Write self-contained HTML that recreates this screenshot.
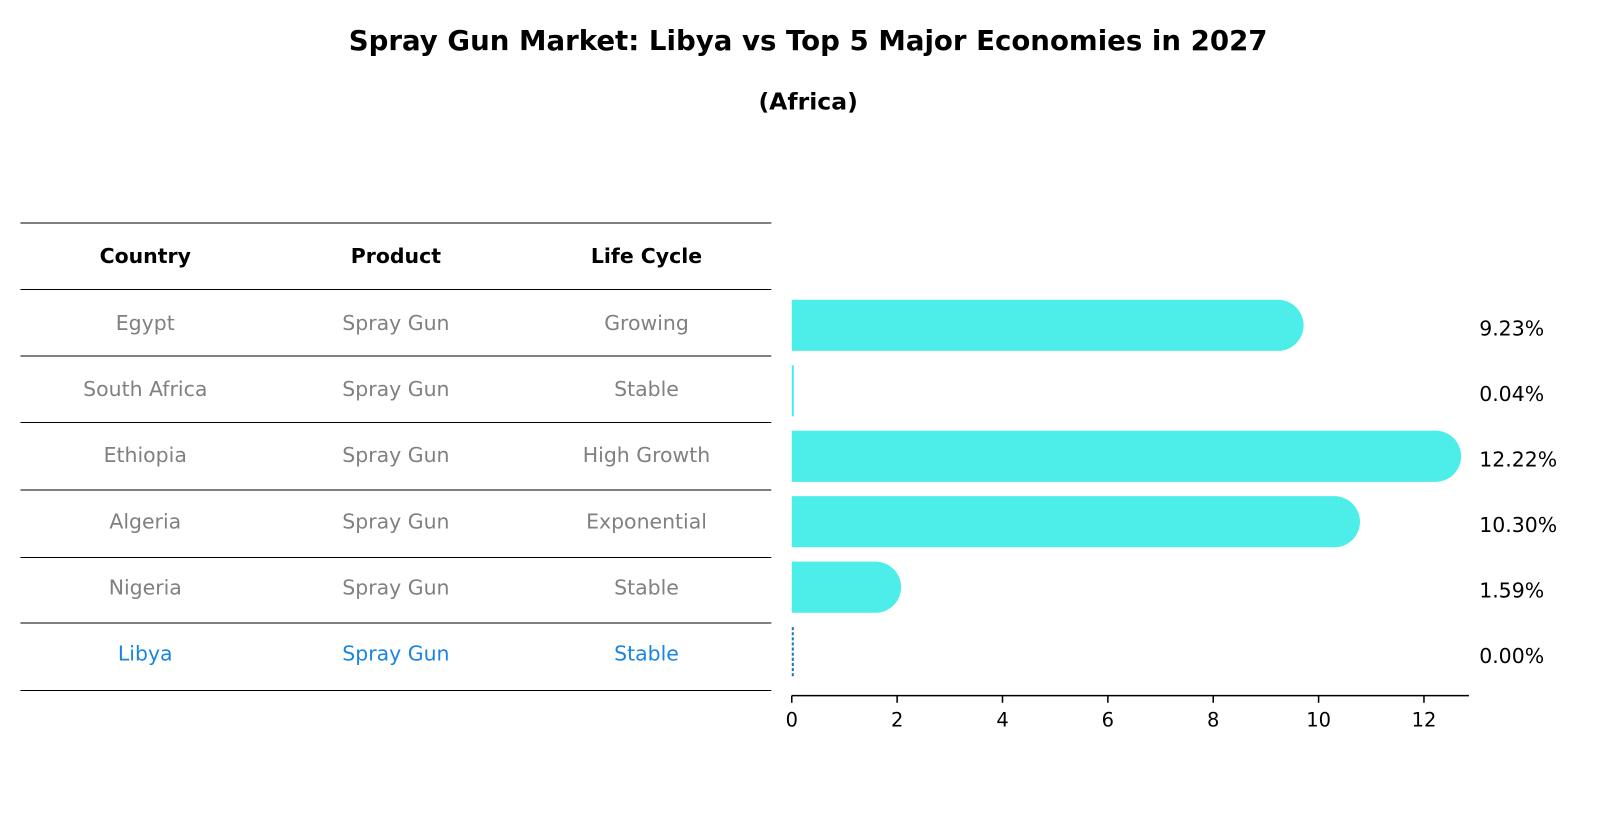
<!DOCTYPE html>
<html><head><meta charset="utf-8"><style>
body{margin:0;background:#fff;font-family:"Liberation Sans","DejaVu Sans",sans-serif;}
svg{display:block;}
</style></head><body>
<svg width="1604" height="823" viewBox="0 0 1568 804.5" xmlns="http://www.w3.org/2000/svg" font-family="DejaVu Sans, Liberation Sans, sans-serif">
<text x="790" y="49" text-anchor="middle" font-size="27" font-weight="bold">Spray Gun Market: Libya vs Top 5 Major Economies in 2027</text>
<text x="790" y="107" text-anchor="middle" font-size="23" font-weight="bold">(Africa)</text>
<g id="table"></g>
<g id="bars"></g>
</svg>
<script>
const countries=["Egypt","South Africa","Ethiopia","Algeria","Nigeria","Libya"];
const products=["Spray Gun","Spray Gun","Spray Gun","Spray Gun","Spray Gun","Spray Gun"];
const lifeCycles=["Growing","Stable","High Growth","Exponential","Stable","Stable"];
const values=[9.23,0.04,12.22,10.30,1.59,0.00];
const ticks=[0,2,4,6,8,10,12];
const NS="http://www.w3.org/2000/svg";
function mk(tag,attrs,parent,text){const e=document.createElementNS(NS,tag);for(const k in attrs)e.setAttribute(k,attrs[k]);if(text!==undefined)e.textContent=text;parent.appendChild(e);return e;}
const T=document.getElementById('table'),B=document.getElementById('bars');
const lineYs=[218,283,348,413,479,545,609,675];
lineYs.forEach(y=>{const l=mk('line',{x1:20,x2:754,y1:y,y2:y,stroke:'#000','stroke-width':1},T);

});
const cx=[142,387,632];
["Country","Product","Life Cycle"].forEach((h,i)=>{const t=mk('text',{x:cx[i],y:257,'text-anchor':'middle','font-size':20,'font-weight':'bold'},T,h);

});
const rowY=i=>250+(i+1)*64.6;
countries.forEach((c,i)=>{const col=c==="Libya"?'#1a85e0':'#808080';
[c,products[i],lifeCycles[i]].forEach((v,j)=>{const t=mk('text',{x:cx[j],y:rowY(i)+8,'text-anchor':'middle','font-size':20,fill:col},T,v);

});});
const x0=774,ppu=51.5,bh=50;
const xs=v=>x0+v*ppu;
const barY=i=>318+i*64;
values.forEach((v,i)=>{const y=barY(i);let el;
if(v<0.02){el=mk('line',{x1:x0+1,x2:x0+1,y1:y-25,y2:y+25,stroke:'#1f77b4','stroke-width':2,'stroke-dasharray':'3,2'},B);}
else if(v<0.5){el=mk('rect',{x:x0,y:y-25,width:Math.max(2,xs(v)-x0),height:bh,fill:'#4deee9'},B);}
else{const xe=xs(v);el=mk('path',{d:`M${x0},${y-25}H${xe}A25,25 0 0 1 ${xe},${y+25}H${x0}Z`,fill:'#4deee9'},B);}


const t=mk('text',{x:1446,y:y+10,'font-size':20},B,v.toFixed(2)+'%');

});
const ax=mk('line',{x1:x0,x2:1436,y1:680,y2:680,stroke:'#000','stroke-width':1.5},B);


ticks.forEach(tv=>{const x=xs(tv);const l=mk('line',{x1:x,x2:x,y1:680,y2:687,stroke:'#000','stroke-width':1.5},B);


const t=mk('text',{x:x,y:710,'text-anchor':'middle','font-size':19},B,String(tv));

});
</script>
</body></html>
